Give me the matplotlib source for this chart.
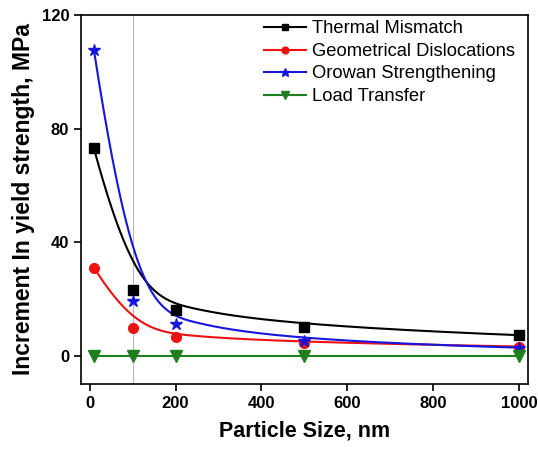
import numpy as np
import matplotlib
matplotlib.use("Agg")
import matplotlib.pyplot as plt

plt.rcParams['font.family'] = ['Liberation Sans', 'DejaVu Sans']

x = [10, 100, 200, 500, 1000]
thermal = [73, 23, 16.2, 10.2, 7.2]
geometric = [31, 9.6, 6.7, 4.6, 3.2]
orowan = [107.7, 19.4, 11, 5, 2.8]
load = [0, 0, 0, 0, 0]

labels = ["Thermal Mismatch", "Geometrical Dislocations", "Orowan Strengthening", "Load Transfer"]


def bspline(px, py, deg=3, n=300):
    px = np.asarray(px, float); py = np.asarray(py, float)
    m = len(px)
    k = min(deg, m - 1)
    inner = np.linspace(0, 1, m - k + 1)[1:-1]
    knots = np.concatenate([np.zeros(k + 1), inner, np.ones(k + 1)])
    ts = np.linspace(0, 1, n)
    outx, outy = [], []
    for t in ts:
        N = np.zeros(len(knots) - 1)
        for i in range(len(knots) - 1):
            if knots[i] <= t < knots[i + 1]:
                N[i] = 1.0
        if t >= 1.0:
            idx = np.where(knots < 1.0)[0].max()
            N[idx] = 1.0
        for d in range(1, k + 1):
            Nn = np.zeros(len(knots) - 1 - d)
            for i in range(len(Nn)):
                a = 0.0
                den1 = knots[i + d] - knots[i]
                if den1 > 0:
                    a += (t - knots[i]) / den1 * N[i]
                den2 = knots[i + d + 1] - knots[i + 1]
                if den2 > 0:
                    a += (knots[i + d + 1] - t) / den2 * N[i + 1]
                Nn[i] = a
            N = Nn
        outx.append(np.dot(N[:m], px))
        outy.append(np.dot(N[:m], py))
    return np.array(outx), np.array(outy)


fig = plt.figure(figsize=(5.38, 4.51), dpi=100)
ax = fig.add_axes([0.1506, 0.1486, 0.8304, 0.8181])

series = [thermal, geometric, orowan, load]
colors = ['black', '#ee1111', '#1515dd', '#1f7f1f']
markers = ['s', 'o', '*', 'v']
msizes = [7, 7, 9, 8]

ax.axvline(100, color='#b8b8b8', lw=0.8, zorder=0)

for s, c, mk, ms, lab in zip(series, colors, markers, msizes, labels):
    bx, by = bspline(x, s)
    ax.plot(bx, by, color=c, lw=1.5, zorder=2)
    ax.plot(x, s, linestyle='none', marker=mk, color=c, ms=ms, zorder=3)
    ax.plot([], [], color=c, lw=1.5, marker=mk, ms=ms * 0.7, label=lab)

ax.set_xlim(-20, 1020)
ax.set_ylim(-10, 120)
ax.set_xticks([0, 200, 400, 600, 800, 1000])
ax.set_yticks([0, 40, 80, 120])
ax.tick_params(direction='out', length=5, width=1.2, labelsize=12, top=False, right=False)
for lab in ax.get_xticklabels() + ax.get_yticklabels():
    lab.set_fontweight('bold')
for sp in ax.spines.values():
    sp.set_linewidth(1.2)

ax.set_xlabel("Particle Size, nm", fontsize=15.5, fontweight='bold', labelpad=7)
ax.set_ylabel("Increment In yield strength, MPa", fontsize=16.5, fontweight='bold', labelpad=5)

leg = ax.legend(loc='upper right', frameon=False, fontsize=13.2, handlelength=2.3,
                borderaxespad=0.1, labelspacing=0.3, handletextpad=0.35,
                bbox_to_anchor=(0.993, 1.01))

fig.savefig("out.png", dpi=100)
